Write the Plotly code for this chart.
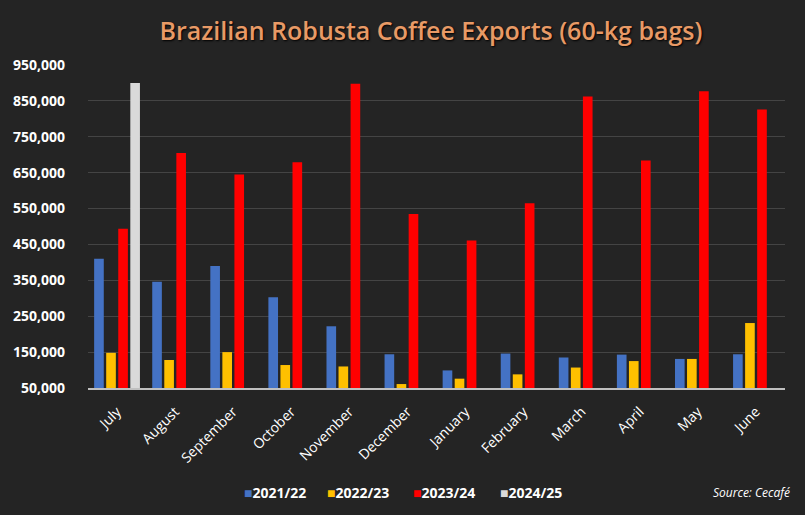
import plotly.graph_objects as go

months = ["July", "August", "September", "October", "November", "December",
          "January", "February", "March", "April", "May", "June"]
s2021 = [410000, 346000, 390000, 303000, 222000, 144000, 99000, 146000, 135000, 143000, 131000, 144000]
s2022 = [148000, 128000, 150000, 114000, 110000, 61000, 76000, 88000, 107000, 125000, 131000, 231000]
s2023 = [494000, 705000, 645000, 679000, 898000, 535000, 461000, 565000, 862000, 684000, 877000, 826000]
s2024 = [900000, None, None, None, None, None, None, None, None, None, None, None]
series_names = ["2021/22", "2022/23", "2023/24", "2024/25"]
colors = ["#4472C4", "#FFC000", "#FF0000", "#D9D9D9"]
ytick_vals = [50000, 150000, 250000, 350000, 450000, 550000, 650000, 750000, 850000, 950000]

fig = go.Figure()
for name, vals, c in zip(series_names, [s2021, s2022, s2023, s2024], colors):
    fig.add_trace(go.Bar(x=months, y=vals, name=name, showlegend=False,
                         marker=dict(color=c, line=dict(width=0))))

BG = "#242424"
L, R, T, B = 88, 20, 65, 127
W, H = 805, 515
pw, ph = W - L - R, H - T - B

def px_x(p):
    return (p - L) / pw

def px_y(p):
    return (H - B - p) / ph

annotations = []
legend_px = [245, 328, 414, 501]
for name, c, lx in zip(series_names, colors, legend_px):
    annotations.append(dict(
        text=f"<span style='color:{c}'>■</span><b>{name}</b>",
        xref="paper", yref="paper", x=px_x(lx - 3), y=px_y(492),
        xanchor="left", yanchor="middle", showarrow=False,
        font=dict(family="Open Sans", size=14, color="#FFFFFF")))
annotations.append(dict(text="<i>Source: Cecafé</i>", xref="paper", yref="paper",
                        x=px_x(792), y=px_y(492), xanchor="right", yanchor="middle",
                        showarrow=False,
                        font=dict(family="Open Sans", size=12, color="#FFFFFF")))

fig.update_layout(
    width=W, height=H,
    paper_bgcolor=BG, plot_bgcolor=BG,
    barmode="group", bargap=0.17, bargroupgap=0.2,
    margin=dict(l=L, r=R, t=T, b=B),
    title=dict(text="Brazilian Robusta Coffee Exports (60-kg bags)", x=431 / W, xanchor="center",
               y=1 - 31 / H, yanchor="middle",
               font=dict(family="Open Sans", size=25, color="#E89A66", weight=600,
                         shadow="1px 1px 2px #000000")),
    font=dict(family="Open Sans", color="#FFFFFF"),
    showlegend=False,
    xaxis=dict(showgrid=False, tickangle=-45, ticks="", showline=True, linecolor="#BFBFBF",
               linewidth=2, ticklabelstandoff=8,
               tickfont=dict(family="Open Sans", size=14, color="#FFFFFF")),
    yaxis=dict(range=[50000, 950000], tickvals=ytick_vals, tickformat=",",
               gridcolor="#444444", gridwidth=1, zeroline=False, showline=False,
               ticklabelstandoff=22,
               tickfont=dict(family="Open Sans", size=14, color="#FFFFFF", weight="bold")),
    annotations=annotations,
)

fig.write_html("out.html", config={"displayModeBar": False},
               post_script="document.body.style.margin='0px';document.body.style.background='#242424';")
